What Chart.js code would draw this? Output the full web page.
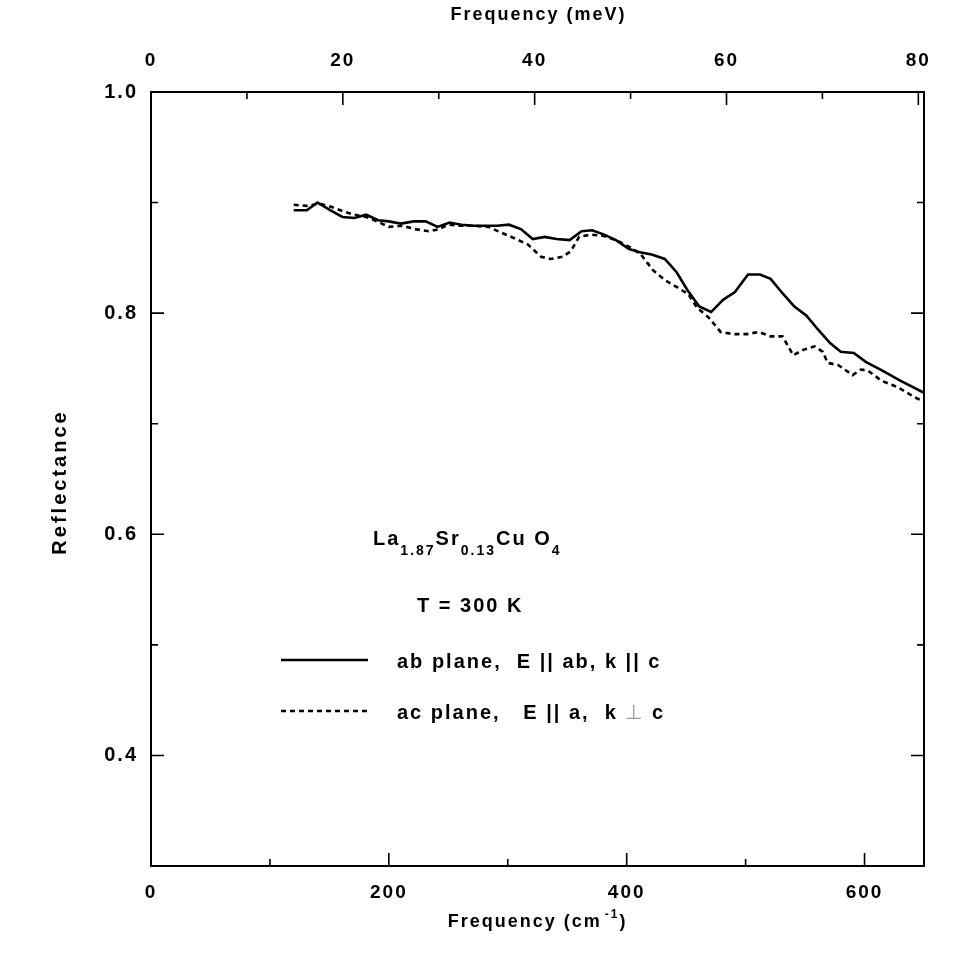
<!DOCTYPE html>
<html>
<head>
<meta charset="utf-8">
<script src="https://cdn.jsdelivr.net/npm/chart.js@4.4.1/dist/chart.umd.min.js"></script>
<style>
html,body{margin:0;padding:0;background:#fff;}
#wrap{width:977px;height:977px;}
canvas{display:block;background:#fff;}
</style>
</head>
<body>
<div id="wrap"><canvas id="c" width="977" height="977"></canvas></div>
<script>
// ---- data ----
const abFreq = [120,131,140,151,161,171,181,191,200,210,221,231,241,251,261,271,281,291,301,311,321,331,341,352,362,371,381,391,402,411,421,432,442,451,461,471,481,491,502,512,521,531,541,551,561,571,580,591,601,615,630,650];
const abRefl = [0.893,0.893,0.900,0.893,0.887,0.886,0.889,0.884,0.883,0.881,0.883,0.883,0.878,0.882,0.880,0.879,0.879,0.879,0.880,0.876,0.867,0.869,0.867,0.866,0.874,0.875,0.871,0.866,0.858,0.855,0.853,0.849,0.837,0.821,0.806,0.801,0.812,0.819,0.835,0.835,0.831,0.818,0.806,0.798,0.785,0.773,0.765,0.764,0.756,0.748,0.739,0.728];
const acFreq = [120,131,142,152,162,171,181,192,200,211,222,234,242,250,260,272,284,292,305,317,328,336,346,353,360,370,380,391,404,412,422,432,443,452,459,469,479,490,501,511,521,531,540,549,558,565,569,578,590,597,603,614,628,642,650];
const acRefl = [0.898,0.897,0.899,0.896,0.892,0.889,0.887,0.882,0.878,0.879,0.876,0.874,0.876,0.880,0.879,0.879,0.878,0.874,0.868,0.862,0.851,0.849,0.851,0.856,0.869,0.871,0.870,0.866,0.859,0.853,0.839,0.830,0.823,0.817,0.805,0.796,0.783,0.781,0.781,0.783,0.779,0.779,0.762,0.767,0.770,0.765,0.755,0.753,0.744,0.749,0.748,0.739,0.733,0.724,0.720];

const seriesNames = ['ab plane,  E || ab, k || c', 'ac plane,   E || a,  k ⊥ c'];
const cmLabels = [0,200,400,600];
const cmTicks = [100,200,300,400,500,600];
const cmMajor = [200,400,600];
const meVLabels = [0,20,40,60,80];
const meVTicks = [10,20,30,40,50,60,70,80];
const meVMajor = [20,40,60,80];
const reflLabels = [0.4,0.6,0.8,1.0];
const reflTicks = [0.4,0.5,0.6,0.7,0.8,0.9];
const reflMajor = [0.4,0.6,0.8];
const CM_PER_MEV = 8.0655;
const X_MIN = 0, X_MAX = 650, Y_MIN = 0.3, Y_MAX = 1.0;

const FF = "'Liberation Sans', Arial, Helvetica, sans-serif";
const tickFont = {family: FF, size: 19, weight: 'bold'};

function runs(ctx, x, y, parts) {
  let cx = x;
  parts.forEach(p => {
    ctx.font = (p.weight || 'bold') + ' ' + p.size + 'px ' + FF;
    ctx.fillStyle = p.color || '#000';
    ctx.fillText(p.t, cx, y + (p.dy || 0));
    cx += ctx.measureText(p.t).width;
  });
  return cx;
}

const deco = {
  id: 'deco',
  beforeDraw(chart) { chart.ctx.letterSpacing = '2px'; },
  afterDraw(chart) {
    const {ctx, chartArea: a, scales: s} = chart;
    ctx.save();
    ctx.letterSpacing = '2px';
    // inward tick marks
    ctx.strokeStyle = '#000';
    ctx.lineWidth = 1.6;
    ctx.beginPath();
    cmTicks.forEach(v => {
      const px = s.x.getPixelForValue(v), L = cmMajor.includes(v) ? 13 : 7;
      ctx.moveTo(px, a.bottom); ctx.lineTo(px, a.bottom - L);
    });
    meVTicks.forEach(v => {
      const px = s.x2.getPixelForValue(v), L = meVMajor.includes(v) ? 13 : 7;
      ctx.moveTo(px, a.top); ctx.lineTo(px, a.top + L);
    });
    reflTicks.forEach(v => {
      const py = s.y.getPixelForValue(v), L = reflMajor.includes(v) ? 13 : 7;
      ctx.moveTo(a.left, py); ctx.lineTo(a.left + L, py);
      ctx.moveTo(a.right, py); ctx.lineTo(a.right - L, py);
    });
    ctx.stroke();

    ctx.textBaseline = 'alphabetic';
    // top axis title
    ctx.font = 'bold 18px ' + FF;
    ctx.fillStyle = '#000';
    ctx.textAlign = 'center';
    const cx = (a.left + a.right) / 2;
    ctx.fillText('Frequency (meV)', cx + 1, 20);
    // bottom axis title with superscript
    ctx.textAlign = 'left';
    ctx.font = 'bold 18px ' + FF;
    const w1 = ctx.measureText('Frequency (cm').width;
    ctx.font = 'bold 12px ' + FF;
    const w2 = ctx.measureText('-1').width;
    ctx.font = 'bold 18px ' + FF;
    const w3 = ctx.measureText(')').width;
    const start = cx - (w1 + w2 + w3 + 3) / 2;
    runs(ctx, start, 927, [
      {t: 'Frequency (cm', size: 18},
      {t: ' ', size: 4},
      {t: '-1', size: 12, dy: -9},
      {t: ')', size: 18}
    ]);
    // y axis title
    ctx.save();
    ctx.translate(66, 483);
    ctx.rotate(-Math.PI / 2);
    ctx.textAlign = 'center';
    ctx.font = 'bold 20px ' + FF;
    ctx.letterSpacing = '3px';
    ctx.fillText('Reflectance', 1, 0);
    ctx.restore();

    // formula
    ctx.textAlign = 'left';
    runs(ctx, 373, 545, [
      {t: 'La', size: 20},
      {t: '1.87', size: 14, dy: 10},
      {t: 'Sr', size: 20},
      {t: '0.13', size: 14, dy: 10},
      {t: 'Cu O', size: 20},
      {t: '4', size: 14, dy: 10}
    ]);
    runs(ctx, 417, 612, [{t: 'T = 300 K', size: 20}]);

    // legend
    const ds = chart.data.datasets;
    ctx.lineWidth = ds[0].borderWidth;
    ctx.setLineDash([]);
    ctx.beginPath(); ctx.moveTo(281, 660); ctx.lineTo(368, 660); ctx.stroke();
    ctx.lineWidth = ds[1].borderWidth;
    ctx.setLineDash(ds[1].borderDash);
    ctx.beginPath(); ctx.moveTo(281, 711); ctx.lineTo(368, 711); ctx.stroke();
    ctx.setLineDash([]);
    runs(ctx, 397, 668, [{t: seriesNames[0], size: 20}]);
    const parts2 = seriesNames[1].split('⊥');
    runs(ctx, 397, 719, [
      {t: parts2[0], size: 20},
      {t: '⊥', size: 20, weight: 'normal', color: '#999'},
      {t: parts2[1], size: 20}
    ]);
    ctx.restore();
  }
};

const ctx = document.getElementById('c').getContext('2d');
new Chart(ctx, {
  type: 'line',
  data: {
    datasets: [
      {label: seriesNames[0], data: abFreq.map((f, i) => ({x: f, y: abRefl[i]})),
       borderColor: '#000', borderWidth: 2.6, pointRadius: 0, tension: 0, fill: false,
       xAxisID: 'x', yAxisID: 'y'},
      {label: seriesNames[1], data: acFreq.map((f, i) => ({x: f, y: acRefl[i]})),
       borderColor: '#000', borderWidth: 2.6, borderDash: [5, 4], pointRadius: 0, tension: 0, fill: false,
       xAxisID: 'x', yAxisID: 'y'}
    ]
  },
  options: {
    responsive: false, animation: false, devicePixelRatio: 1,
    layout: {padding: 0},
    plugins: {legend: {display: false}, tooltip: {enabled: false}, title: {display: false}},
    scales: {
      x: {
        type: 'linear', position: 'bottom', min: X_MIN, max: X_MAX,
        grid: {display: false, drawTicks: false},
        border: {display: true, color: '#000', width: 2},
        ticks: {font: tickFont, color: '#000', padding: 15, maxRotation: 0, autoSkip: false,
                callback: v => String(v)},
        afterBuildTicks: sc => { sc.ticks = cmLabels.map(v => ({value: v})); },
        afterFit: sc => { sc.height = 111; }
      },
      x2: {
        type: 'linear', position: 'top', min: X_MIN / CM_PER_MEV, max: X_MAX / CM_PER_MEV,
        grid: {display: false, drawTicks: false},
        border: {display: true, color: '#000', width: 2},
        ticks: {font: tickFont, color: '#000', padding: 20, maxRotation: 0, autoSkip: false,
                callback: v => String(v)},
        afterBuildTicks: sc => { sc.ticks = meVLabels.map(v => ({value: v})); },
        afterFit: sc => { sc.height = 92; }
      },
      y: {
        type: 'linear', position: 'left', min: Y_MIN, max: Y_MAX,
        grid: {display: false, drawTicks: false},
        border: {display: true, color: '#000', width: 2},
        ticks: {font: {family: FF, size: 20, weight: 'bold'}, color: '#000', padding: 13, autoSkip: false,
                callback: v => Number(v).toFixed(1)},
        afterBuildTicks: sc => { sc.ticks = reflLabels.map(v => ({value: v})); },
        afterFit: sc => { sc.width = 151; }
      },
      y2: {
        type: 'linear', position: 'right', min: Y_MIN, max: Y_MAX,
        grid: {display: false, drawTicks: false},
        border: {display: true, color: '#000', width: 2},
        ticks: {display: false},
        afterFit: sc => { sc.width = 53; }
      }
    }
  },
  plugins: [deco]
});
</script>
</body>
</html>
